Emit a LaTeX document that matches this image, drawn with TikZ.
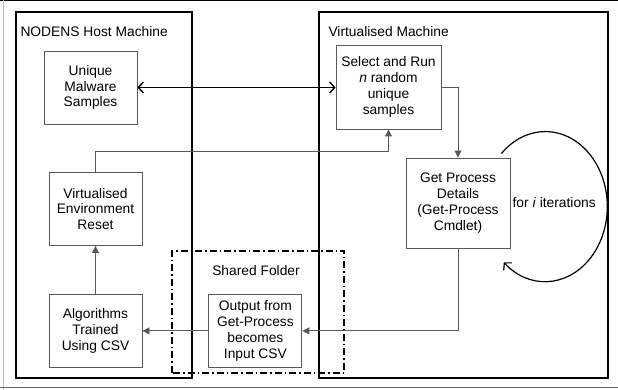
\documentclass[tikz,border=0pt]{standalone}
\usepackage{fontspec}
\setmainfont{Liberation Sans}
\usepackage{tikz}
\usetikzlibrary{arrows.meta,positioning,calc}

\begin{document}
\begin{tikzpicture}[
    x=1pt, y=1pt,
    every node/.style={font=\fontsize{13.8}{15.9}\selectfont},
    machine/.style={rectangle, draw, line width=1.8pt, inner sep=0},
    box/.style={rectangle, draw=black!65, line width=0.9pt, align=center, minimum width=93pt, minimum height=73pt, inner sep=0},
    shared/.style={draw, line width=1.3pt, dash pattern=on 7pt off 3pt on 1.5pt off 3pt},
    flow/.style={-{Triangle[length=7pt,width=7pt]}, draw=black!65, line width=0.9pt},
    link/.style={{Straight Barb[length=5pt,width=11pt]}-{Straight Barb[length=5pt,width=11pt]}, line width=1.4pt}
]
\useasboundingbox (0,0) rectangle (618,390);

% page rules
\draw[black, line width=1.2pt] (0,389.4) -- (618,389.4);
\draw[black!25, line width=1pt] (3.5,0) -- (3.5,390);
\draw[black!60, line width=1.5pt] (0,2.5) -- (618,2.5);

% machines
\node[machine, minimum width=176pt, minimum height=366pt] (host) at (104,195) {};
\node[machine, minimum width=289pt, minimum height=366pt] (vm) at (463.5,195) {};
\node[anchor=west] (hosttitle) at (17,358) {NODENS Host Machine};
\node[anchor=west] (vmtitle) at (325,358) {Virtualised Machine};

% shared folder
\draw[shared] (172,17) rectangle (344,139);
\node (sharedtitle) at (256,119) {Shared Folder};

% host side
\node[box] (samples) at (90.5,302.5) {Unique\\Malware\\Samples};
\node[box] (reset) at (95.5,181) {Virtualised\\Environment\\Reset};
\node[box, below=48pt of reset] (algos) {Algorithms\\Trained\\Using CSV};
\node[box, right=66pt of algos] (output) {Output from\\Get-Process\\becomes\\Input CSV};

% virtual machine side
\node[box, minimum width=105pt, minimum height=84pt] (select) at (388.5,303) {Select and Run\\\textit{n} random\\unique\\samples};
\node[box, minimum width=104pt, minimum height=90pt] (getproc) at (458,187) {Get Process\\Details\\(Get-Process\\Cmdlet)};
\node[right=0pt of getproc, inner sep=2pt] (iter) {for \textit{i} iterations};

% connectors
\draw[link] (samples.east) -- (samples.east -| select.west);
\draw[flow] (reset.north) -- ++(0,21) -| (select.south);
\draw[flow] (select.east) -| (getproc.north);
\draw[flow] (getproc.south) |- (output.east);
\draw[flow] (output) -- (algos);
\draw[flow] (algos) -- (reset);

% loop
\coordinate (loopstart) at ($(getproc.north east)+(-9,4)$);
\draw[-{Straight Barb[length=5pt,width=11pt]}, line width=1.2pt] (loopstart) arc[start angle=135, end angle=-132, x radius=62, y radius=75];

\end{tikzpicture}
\end{document}
